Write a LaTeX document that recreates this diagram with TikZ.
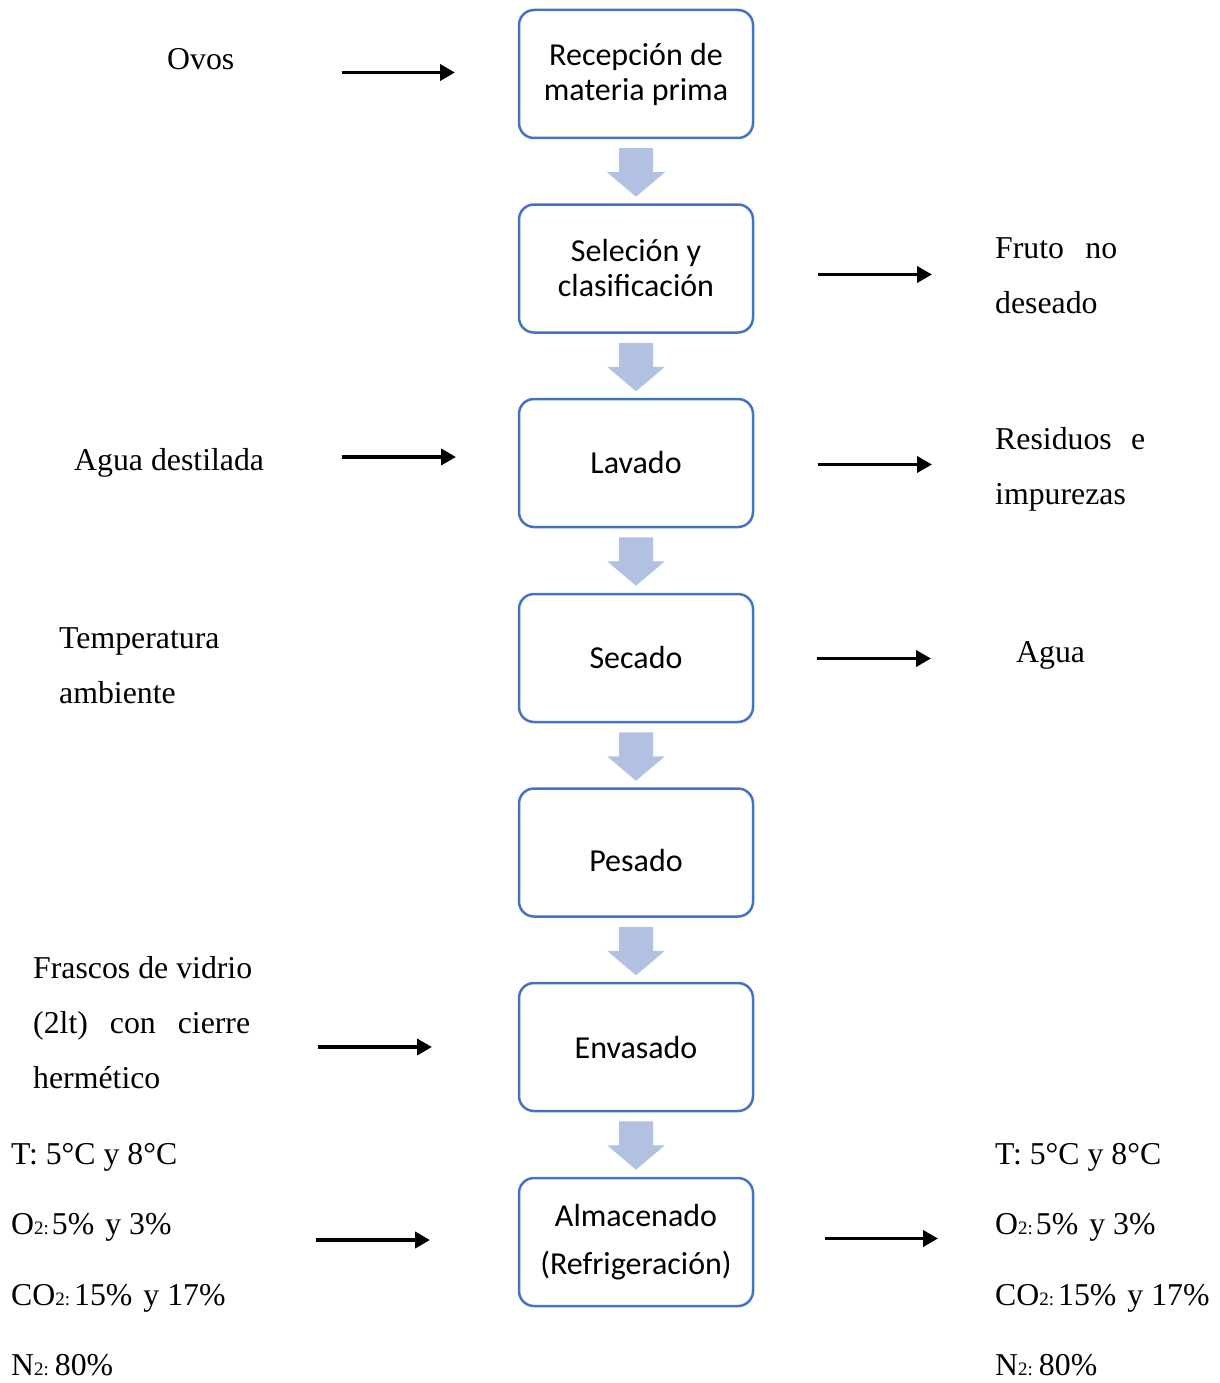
\documentclass[tikz,border=0pt]{standalone}
\usepackage{fontspec}
\setmainfont{Liberation Serif}
\newfontfamily\boxfont{Carlito}
\usetikzlibrary{arrows.meta}
\definecolor{boxblue}{RGB}{68,114,196}
\definecolor{arrowfill}{RGB}{178,192,226}
\newcommand{\subtwo}{{\fontsize{19}{19}\selectfont 2:}}
\tikzset{
  x=1pt, y=-1pt,
  stepbox/.style={draw=boxblue, line width=2.5pt, rounded corners=15pt, fill=white,
    minimum width=234pt, minimum height=128pt, align=center, inner sep=0pt,
    font=\boxfont\fontsize{32}{35}\selectfont},
  lbl/.style={anchor=base west, inner sep=0pt, font=\fontsize{31.8}{37}\selectfont},
  flowarrow/.style={line width=3.8pt, -{Triangle[length=15pt,width=16pt]}},
  downarrow/.pic={\fill[arrowfill] (-17,0) -- (17,0) -- (17,24) -- (29,24) -- (0,48.5) -- (-29,24) -- (-17,24) -- cycle;}
}
\begin{document}
\begin{tikzpicture}
\useasboundingbox (0,0) rectangle (1219,1383);
% process boxes
\node[stepbox] (b1) at (636,74) {Recepción de\\materia prima};
\node[stepbox] (b2) at (636,268.5) {Seleción y\\clasificación};
\node[stepbox] (b3) at (636,463) {Lavado};
\node[stepbox] (b4) at (636,658) {Secado};
\node[stepbox, text height=37pt, text depth=0pt] (b5) at (636,852.5) {Pesado};
\node[stepbox] (b6) at (636,1047) {Envasado};
\node[stepbox] (b7) at (636,1242) {Almacenado\\[13pt](Refrigeración)};
% block arrows between boxes
\path (b1.south) ++(0,9) pic {downarrow};
\path (b2.south) ++(0,9) pic {downarrow};
\path (b3.south) ++(0,9) pic {downarrow};
\path (b4.south) ++(0,9) pic {downarrow};
\path (b5.south) ++(0,9) pic {downarrow};
\path (b6.south) ++(0,9) pic {downarrow};
% labels left
\node[lbl] (ovos) at (167,70) {Ovos};
\node[lbl] (agua1) at (74,470) {Agua destilada};
\node[lbl] (temp1) at (59,648) {Temperatura};
\node[lbl] (temp2) at (59,703) {ambiente};
\node[lbl] (fras1) at (33,978) {Frascos de vidrio};
\node[lbl] (fras2) at (33,1033) {\makebox[217pt][s]{(2lt) con cierre}};
\node[lbl] (fras3) at (33,1088) {hermético};
\node[lbl] (lt) at (11,1164) {T: 5°C y 8°C};
\node[lbl] (lo) at (11,1234) {O\subtwo\hspace{3pt}5\%\hspace{11pt}y 3\%};
\node[lbl] (lc) at (11,1305) {CO\subtwo\hspace{4pt}15\%\hspace{11pt}y 17\%};
\node[lbl] (ln) at (11,1375) {N\subtwo\hspace{6pt}80\%};
% labels right
\node[lbl] (fruto1) at (995,258) {\makebox[122pt][s]{Fruto no}};
\node[lbl] (fruto2) at (995,313) {deseado};
\node[lbl] (res1) at (995,449) {\makebox[150pt][s]{Residuos e}};
\node[lbl] (res2) at (995,504) {impurezas};
\node[lbl] (agua2) at (1016,662) {Agua};
\node[lbl] (rt) at (995,1164) {T: 5°C y 8°C};
\node[lbl] (ro) at (995,1234) {O\subtwo\hspace{3pt}5\%\hspace{11pt}y 3\%};
\node[lbl] (rc) at (995,1305) {CO\subtwo\hspace{4pt}15\%\hspace{11pt}y 17\%};
\node[lbl] (rn) at (995,1375) {N\subtwo\hspace{6pt}80\%};
% arrow end points
\coordinate (a1s) at (342,72.5);  \coordinate (a1e) at (455,72.5);
\coordinate (a2s) at (818,274.5); \coordinate (a2e) at (932,274.5);
\coordinate (a3s) at (342,457);   \coordinate (a3e) at (456,457);
\coordinate (a4s) at (818,464.5); \coordinate (a4e) at (932,464.5);
\coordinate (a5s) at (817,658.5); \coordinate (a5e) at (931,658.5);
\coordinate (a6s) at (318,1047);  \coordinate (a6e) at (432,1047);
\coordinate (a7s) at (316,1240);  \coordinate (a7e) at (430,1240);
\coordinate (a8s) at (825,1238.5);\coordinate (a8e) at (938,1238.5);
\draw[flowarrow] (a1s) -- (a1e);
\draw[flowarrow] (a2s) -- (a2e);
\draw[flowarrow] (a3s) -- (a3e);
\draw[flowarrow] (a4s) -- (a4e);
\draw[flowarrow] (a5s) -- (a5e);
\draw[flowarrow] (a6s) -- (a6e);
\draw[flowarrow] (a7s) -- (a7e);
\draw[flowarrow] (a8s) -- (a8e);
\end{tikzpicture}
\end{document}
